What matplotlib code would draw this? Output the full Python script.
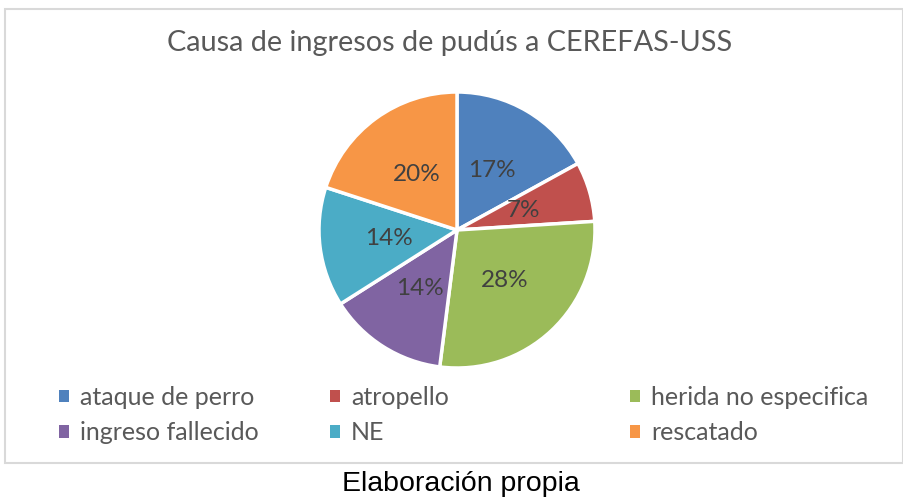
import matplotlib.pyplot as plt
from matplotlib.patches import Rectangle, Patch

## data
causas = ['ataque de perro', 'atropello', 'herida no especifica',
          'ingreso fallecido', 'NE', 'rescatado']
porcentajes = [17, 7, 28, 14, 14, 20]
colores = ['#4F81BD', '#C0504D', '#9BBB59', '#8064A2', '#4BACC6', '#F79646']

W, H = 904, 497
fig = plt.figure(figsize=(W / 100, H / 100), dpi=100)

## chart border
fig.patches.append(Rectangle((5 / W, 1 - 463 / H), 898 / W, 454 / H,
                             transform=fig.transFigure, fill=False,
                             edgecolor='#D9D9D9', linewidth=1.5))

## pie
cx, cy, r = 457, 230, 138
ax = fig.add_axes([(cx - r) / W, (H - cy - r) / H, 2 * r / W, 2 * r / H])
wedges, texts, autotexts = ax.pie(
    porcentajes, colors=colores, startangle=90, counterclock=False,
    autopct='%d%%', pctdistance=0.5, radius=1,
    wedgeprops=dict(edgecolor='white', linewidth=2.5),
    textprops=dict(fontsize=17.5, color='#404040', family='Lato'))
ax.set_xlim(-1, 1)
ax.set_ylim(-1, 1)
ax.set_aspect('equal')
ax.axis('off')

## title
fig.text(450 / W, 1 - 43 / H, 'Causa de ingresos de pudús a CEREFAS-USS',
         ha='center', va='center', fontsize=20.8, color='#595959', family='Lato')

## legend: three columns, two rows each
cols_x = [59, 330, 630]
for i, x in enumerate(cols_x):
    handles = [Patch(facecolor=colores[i]), Patch(facecolor=colores[i + 3])]
    labels = [causas[i], causas[i + 3]]
    fig.legend(handles, labels, loc='upper left',
               bbox_to_anchor=(x / W, 1 - 386 / H), frameon=False,
               prop=dict(family='Lato', size=18), labelcolor='#595959',
               handlelength=0.4, handleheight=0.4, handletextpad=0.45,
               labelspacing=0.5, borderaxespad=0, borderpad=0)

## caption
fig.text(461 / W, 1 - 484 / H, 'Elaboración propia', ha='center', va='center',
         fontsize=20.5, color='black', family='Liberation Sans')

fig.savefig('out.png', dpi=100, facecolor='white')
